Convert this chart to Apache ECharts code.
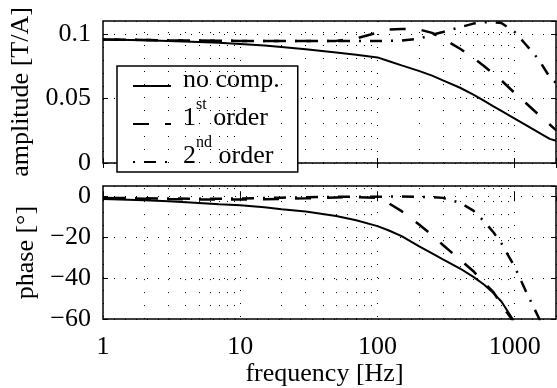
<!DOCTYPE html>
<html><head><meta charset="utf-8">
<script src="https://cdn.jsdelivr.net/npm/echarts@6/dist/echarts.min.js"></script>
<style>html,body{margin:0;padding:0;background:#fff}#c{width:557px;height:388px}</style>
</head><body><div id="c"></div>
<script>
// ---- data ----
const freq = [1, 2, 3, 5, 7, 10, 15, 20, 30, 50, 70, 100, 120, 150, 200, 250, 300, 400, 500, 600, 700, 800, 1000, 1200, 1500, 1800, 2000];
const seriesNames = ['no comp.', '1st order', '2nd order'];

const ampNoComp = [0.0957, 0.0951, 0.0946, 0.0938, 0.0931, 0.0922, 0.0910, 0.0899, 0.0882, 0.0856, 0.0838, 0.0818, 0.0790, 0.0756, 0.0714, 0.0677, 0.0640, 0.0583, 0.0530, 0.0481, 0.0439, 0.0403, 0.0344, 0.0296, 0.0236, 0.0187, 0.0172];
const amp1st    = [0.0957, 0.0953, 0.0950, 0.0948, 0.0947, 0.0946, 0.0945, 0.0945, 0.0945, 0.0946, 0.0965, 0.1010, 0.1033, 0.1038, 0.1035, 0.1008, 0.0963, 0.0885, 0.0813, 0.0750, 0.0690, 0.0640, 0.0542, 0.0467, 0.0372, 0.0298, 0.0255];
const amp2nd    = [0.0957, 0.0953, 0.0950, 0.0948, 0.0947, 0.0946, 0.0946, 0.0946, 0.0946, 0.0946, 0.0946, 0.0946, 0.0946, 0.0948, 0.0962, 0.0993, 0.1015, 0.1052, 0.1080, 0.1090, 0.1090, 0.1085, 0.1015, 0.0920, 0.0800, 0.0665, 0.0620];

const phNoComp = [-1.3, -2.0, -2.5, -3.3, -3.9, -4.4, -5.4, -6.3, -7.5, -9.7, -11.7, -14.6, -16.6, -19.5, -24.4, -27.9, -30.8, -35.3, -39.4, -43.2, -47.3, -51.4, -61.5, -75.0, null, null, null];
const ph1st    = [-0.8, -1.2, -1.4, -1.6, -1.6, -1.6, -1.5, -1.3, -1.0, -0.6, -0.4, -0.8, -3.3, -7.3, -13.7, -19.0, -23.8, -31.0, -36.6, -42.3, -46.8, -53.0, -62.0, null, null, null, null];
const ph2nd    = [-0.8, -1.0, -1.1, -1.2, -1.2, -1.1, -0.9, -0.7, -0.5, -0.3, -0.2, -0.2, -0.2, -0.1, -0.3, -0.4, -0.8, -3.2, -7.0, -12.4, -17.6, -23.0, -34.5, -46.0, -59.5, -72.0, null];

const freqTicks = [1, 10, 100, 1000];
const minorFreqs = [2, 3, 4, 5, 6, 7, 8, 9, 20, 30, 40, 50, 60, 70, 80, 90, 200, 300, 400, 500, 600, 700, 800, 900];

// ---- styling ----
const FONT = 'Liberation Serif';
const FS = 26;
const SUP_RAISE = 19;
const lineTypes = [
  { type: 'solid', width: 2 },
  { type: [16, 16], width: 2.5 },
  { type: [2, 9, 12, 9], width: 2.5 }
];
const dottedH = { color: '#000', width: 1, type: [1, 10] };
const dottedV = { color: '#000', width: 1, type: [1, 12] };

const pairs = vals => freq.map((f, i) => [f, vals[i]]);

function logAxis(gridIndex, opts) {
  return Object.assign({
    type: 'log', logBase: 10, min: 1, max: 2000, gridIndex,
    axisLine: { show: false },
    axisTick: { show: true, inside: true, length: 5, lineStyle: { color: '#000', width: 1 } },
    axisLabel: { show: false },
    splitLine: { show: false }
  }, opts);
}
function valAxis(gridIndex, min, max, interval, opts) {
  return Object.assign({
    type: 'value', gridIndex, min, max, interval,
    axisLine: { show: false },
    axisTick: { show: true, inside: true, length: 5, lineStyle: { color: '#000', width: 1 } },
    axisLabel: { show: false },
    splitLine: { show: false }
  }, opts);
}

const minorGridMark = {
  silent: true, symbol: 'none', animation: false,
  label: { show: false },
  lineStyle: dottedV,
  data: minorFreqs.map(f => ({ xAxis: f }))
};

const ampData = [ampNoComp, amp1st, amp2nd];
const phData = [phNoComp, ph1st, ph2nd];
const series = [];
[ampData, phData].forEach((set, g) => {
  set.forEach((vals, i) => {
    const s = {
      name: seriesNames[i], type: 'line', xAxisIndex: g, yAxisIndex: g,
      data: pairs(vals), symbol: 'none', showSymbol: false, smooth: false, animation: false,
      clip: true, z: 3,
      itemStyle: { color: '#000' },
      lineStyle: Object.assign({ color: '#000', cap: 'butt' }, lineTypes[i])
    };
    if (i === 0) s.markLine = minorGridMark;
    series.push(s);
  });
});

const chart = echarts.init(document.getElementById('c'));
chart.setOption({
  animation: false,
  backgroundColor: '#fff',
  textStyle: { fontFamily: FONT, color: '#000' },
  grid: [
    { left: 103, right: 1, top: 21, height: 142, show: true, borderColor: '#000', borderWidth: 1.5, backgroundColor: '#fff' },
    { left: 103, right: 1, top: 186, height: 143, show: true, borderColor: '#000', borderWidth: 1.5, backgroundColor: '#fff' }
  ],
  xAxis: [
    logAxis(0, { splitLine: { show: true, lineStyle: dottedV } }),
    logAxis(1, {
      splitLine: { show: true, lineStyle: dottedV },
      axisLabel: { show: true, showMaxLabel: false, margin: 15, color: '#000', fontFamily: FONT, fontSize: FS,
        formatter: v => String(Math.round(v)) },
      name: 'frequency [Hz]', nameLocation: 'middle', nameGap: 33,
      nameTextStyle: { fontFamily: FONT, fontSize: FS, color: '#000', padding: [0, 10, 0, 0] }
    }),
    logAxis(0, { position: 'top' }),
    logAxis(1, { position: 'top' })
  ],
  yAxis: [
    valAxis(0, 0, 0.11, 0.05, {
      splitLine: { show: true, lineStyle: dottedH },
      axisLabel: { show: true, showMaxLabel: false, margin: 12, color: '#000', fontFamily: FONT, fontSize: FS },
      name: 'amplitude [T/A]', nameLocation: 'middle', nameGap: 57,
      nameTextStyle: { fontFamily: FONT, fontSize: FS, color: '#000' }
    }),
    valAxis(1, -60, 5, 20, {
      splitLine: { show: true, lineStyle: dottedH },
      axisLabel: { show: true, showMaxLabel: false, margin: 12, color: '#000', fontFamily: FONT, fontSize: FS,
        formatter: v => v < 0 ? '\u2212' + Math.abs(v) : String(v) },
      name: 'phase [\u00b0]', nameLocation: 'middle', nameGap: 57,
      nameTextStyle: { fontFamily: FONT, fontSize: FS, color: '#000' }
    }),
    valAxis(0, 0, 0.11, 0.05, { position: 'right' }),
    valAxis(1, -60, 5, 20, { position: 'right' })
  ],
  legend: {
    data: seriesNames,
    orient: 'vertical', left: 117, top: 66,
    padding: [1, 18, -9, 15], itemGap: -8,
    itemWidth: 38, itemHeight: 14,
    backgroundColor: '#fff', borderColor: '#000', borderWidth: 1.5, borderRadius: 0,
    selectedMode: false,
    itemStyle: { opacity: 0 },
    formatter: name => {
      const m = name.match(/^(\d)(st|nd)( order)$/);
      if (m) return '{f|' + m[1] + '}{s|' + m[2] + '}{m|' + m[3] + '}';
      return '{f|' + name + '}';
    },
    textStyle: {
      color: '#000', fontFamily: FONT, fontSize: FS,
      rich: {
        f: { fontFamily: FONT, fontSize: FS, lineHeight: 36, color: '#000', padding: [0, 0, 12, 7] },
        m: { fontFamily: FONT, fontSize: FS, lineHeight: 36, color: '#000', padding: [0, 0, 12, 0] },
        s: { fontFamily: FONT, fontSize: 16, lineHeight: 16, color: '#000', padding: [-SUP_RAISE, 0, SUP_RAISE, 0] }
      }
    }
  },
  series
});
</script></body></html>
